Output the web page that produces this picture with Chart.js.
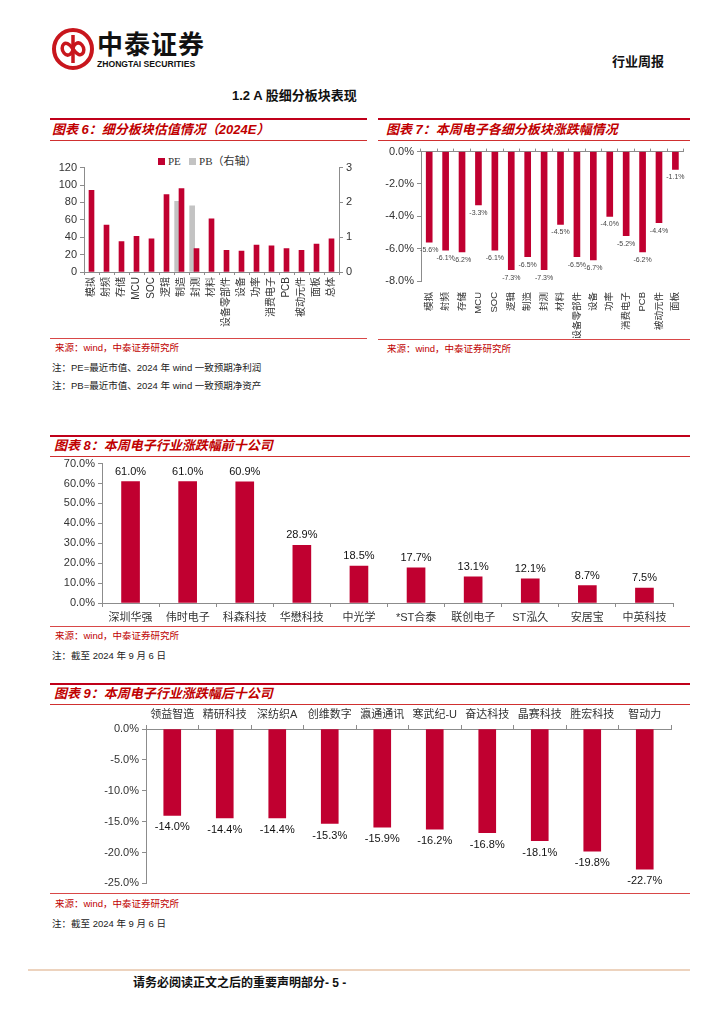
<!DOCTYPE html>
<html>
<head>
<meta charset="utf-8">
<script src="https://cdn.jsdelivr.net/npm/chart.js@4.4.1/dist/chart.umd.min.js"></script>
<style>
body { margin: 0; background: #fff; }
#page { position: relative; width: 724px; height: 1024px; overflow: hidden; font-family: 'Liberation Sans', 'Noto Sans CJK SC', sans-serif; color: #222; }
.txt { position: absolute; white-space: nowrap; }
.rule { position: absolute; height: 0; }
.title { position: absolute; white-space: nowrap; color: #C00000; font-style: italic; font-weight: bold; font-size: 13px; line-height: 16px; }
.src { position: absolute; white-space: nowrap; color: #C00000; font-size: 9.5px; line-height: 12px; }
.note { position: absolute; white-space: nowrap; color: #222; font-size: 9.5px; line-height: 12px; }
.legend { position: absolute; white-space: nowrap; font-size: 11px; line-height: 12px; color: #333; font-family: 'Liberation Serif', 'Noto Sans CJK SC', serif; }
.legend i { display: inline-block; width: 7px; height: 7px; margin-right: 3px; vertical-align: 0px; }
canvas { position: absolute; }
</style>
</head>
<body>
<div id="page">
  <!-- header -->
  <svg class="txt" style="left:51px;top:27px" width="44" height="44" viewBox="0 0 44 44">
    <circle cx="22" cy="22" r="19" fill="none" stroke="#C8161D" stroke-width="4"/>
    <path d="M22 8 V36" stroke="#C8161D" stroke-width="3.5"/>
    <path d="M22 22 C14 10, 8 20, 13 26 C17 31, 22 26, 22 22 C22 18, 27 13, 31 18 C36 24, 30 34, 22 22" fill="none" stroke="#C8161D" stroke-width="3.5"/>
  </svg>
  <div class="txt" style="left:97px;top:30px;font-size:26px;font-weight:bold;letter-spacing:1px;line-height:30px;color:#111">中泰证券</div>
  <div class="txt" style="left:97px;top:59px;font-size:8.6px;font-weight:bold;line-height:10px;color:#111">ZHONGTAI SECURITIES</div>
  <div class="txt" style="left:612px;top:54px;font-size:13px;font-weight:bold;line-height:16px;color:#111">行业周报</div>
  <div class="txt" style="left:232px;top:88px;font-size:13px;font-weight:bold;line-height:16px;color:#111">1.2 A 股细分板块表现</div>

  <!-- chart 6 frame -->
  <div class="rule" style="left:50px;width:317px;top:118px;border-top:2px solid #C0001A"></div>
  <div class="title" style="left:52px;top:122px">图表 6：细分板块估值情况（2024E）</div>
  <div class="rule" style="left:50px;width:317px;top:140px;border-top:1.5px solid #D03030"></div>
  <div class="legend" style="left:158px;top:155px"><i style="background:#C00030"></i>PE &nbsp; <i style="background:#C3C3C3"></i>PB（右轴）</div>
  <canvas id="c6" style="left:50px;top:158px" width="317" height="179"></canvas>
  <div class="rule" style="left:50px;width:317px;top:338px;border-top:1.5px solid #D84848"></div>
  <div class="src" style="left:55px;top:342px">来源：wind，中泰证券研究所</div>
  <div class="note" style="left:52px;top:362px">注：PE=最近市值、2024 年 wind 一致预期净利润</div>
  <div class="note" style="left:52px;top:380px">注：PB=最近市值、2024 年 wind 一致预期净资产</div>

  <!-- chart 7 frame -->
  <div class="rule" style="left:378px;width:312px;top:118px;border-top:2px solid #C0001A"></div>
  <div class="title" style="left:386px;top:122px">图表 7：本周电子各细分板块涨跌幅情况</div>
  <div class="rule" style="left:378px;width:312px;top:140px;border-top:1.5px solid #D03030"></div>
  <canvas id="c7" style="left:378px;top:142px" width="312" height="196"></canvas>
  <div class="rule" style="left:378px;width:312px;top:339px;border-top:1.5px solid #D84848"></div>
  <div class="src" style="left:387px;top:343px">来源：wind，中泰证券研究所</div>

  <!-- chart 8 frame -->
  <div class="rule" style="left:50px;width:640px;top:435px;border-top:2px solid #C0001A"></div>
  <div class="title" style="left:54px;top:438px">图表 8：本周电子行业涨跌幅前十公司</div>
  <div class="rule" style="left:50px;width:640px;top:456px;border-top:1.5px solid #D03030"></div>
  <canvas id="c8" style="left:50px;top:454px" width="640" height="171"></canvas>
  <div class="rule" style="left:50px;width:640px;top:626px;border-top:1.5px solid #D84848"></div>
  <div class="src" style="left:55px;top:630px">来源：wind，中泰证券研究所</div>
  <div class="note" style="left:52px;top:650px">注：截至 2024 年 9 月 6 日</div>

  <!-- chart 9 frame -->
  <div class="rule" style="left:50px;width:640px;top:683px;border-top:2px solid #C0001A"></div>
  <div class="title" style="left:54px;top:686px">图表 9：本周电子行业涨跌幅后十公司</div>
  <div class="rule" style="left:50px;width:640px;top:704px;border-top:1.5px solid #D03030"></div>
  <canvas id="c9" style="left:50px;top:705px" width="640" height="188"></canvas>
  <div class="rule" style="left:50px;width:640px;top:893px;border-top:1.5px solid #D84848"></div>
  <div class="src" style="left:55px;top:898px">来源：wind，中泰证券研究所</div>
  <div class="note" style="left:52px;top:918px">注：截至 2024 年 9 月 6 日</div>

  <!-- footer -->
  <div class="rule" style="left:28px;width:662px;top:969px;border-top:2px solid #EDD3BE"></div>
  <div class="txt" style="left:133px;top:976px;font-size:12px;font-weight:bold;line-height:15px;color:#111">请务必阅读正文之后的重要声明部分- 5 -</div>
</div>

<script>
// 图表6：细分板块估值
const sectorNames = ['模拟', '射频', '存储', 'MCU', 'SOC', '逻辑', '制造', '封测', '材料', '设备零部件', '设备', '功率', '消费电子', 'PCB', '被动元件', '面板', '总体'];
const peValues = [94, 54, 35, 41, 38, 89, 96, 27, 61, 25, 24, 31, 30, 27, 25, 32, 38];
const pbValues = [null, null, null, null, null, null, 2.03, 1.9, null, null, null, null, null, null, null, null, null];

// 图表7：本周各细分板块涨跌幅 (%)
const weekSectorNames = ['模拟', '射频', '存储', 'MCU', 'SOC', '逻辑', '制造', '封测', '材料', '设备零部件', '设备', '功率', '消费电子', 'PCB', '被动元件', '面板'];
const weekChange = [-5.6, -6.1, -6.2, -3.3, -6.1, -7.3, -6.5, -7.3, -4.5, -6.5, -6.7, -4.0, -5.2, -6.2, -4.4, -1.1];

// 图表8：涨幅前十
const topNames = ['深圳华强', '伟时电子', '科森科技', '华懋科技', '中光学', '*ST合泰', '联创电子', 'ST泓久', '安居宝', '中英科技'];
const topChange = [61.0, 61.0, 60.9, 28.9, 18.5, 17.7, 13.1, 12.1, 8.7, 7.5];

// 图表9：跌幅前十
const bottomNames = ['领益智造', '精研科技', '深纺织A', '创维数字', '瀛通通讯', '寒武纪-U', '奋达科技', '晶赛科技', '胜宏科技', '智动力'];
const bottomChange = [-14.0, -14.4, -14.4, -15.3, -15.9, -16.2, -16.8, -18.1, -19.8, -22.7];

const RED = '#C00030';
const GREY = '#C3C3C3';
const AXIS = '#8C8C8C';
const PB_SHIFT = 0.29; // PB bars sit left of the category centre

Chart.defaults.font.family = "'Liberation Sans', 'Noto Sans CJK SC', sans-serif";
Chart.defaults.font.size = 11;
Chart.defaults.color = '#333';
Chart.defaults.animation = false;

const pct = v => v.toFixed(1) + '%';

// draws value labels at the end of each bar
const valueLabels = {
    id: 'valueLabels',
    afterDatasetsDraw(chart, args, opts) {
        const ctx = chart.ctx;
        ctx.save();
        ctx.font = opts.size + "px 'Liberation Sans', sans-serif";
        ctx.fillStyle = opts.color;
        ctx.textAlign = 'center';
        ctx.textBaseline = 'middle';
        chart.getDatasetMeta(0).data.forEach((bar, i) => {
            const v = chart.data.datasets[0].data[i];
            const y = v >= 0 ? bar.y - opts.offset : bar.y + opts.offset;
            ctx.fillText(pct(v), bar.x, y);
        });
        ctx.restore();
    }
};

const tickGrid = { drawOnChartArea: false, tickLength: 4, color: AXIS };
const border = { color: AXIS, width: 1 };

// chart 6
new Chart(document.getElementById('c6'), {
    type: 'bar',
    data: {
        labels: sectorNames,
        datasets: [
            { label: 'PE', data: peValues, backgroundColor: RED, barThickness: 5, grouped: false, yAxisID: 'y' },
            {
                label: 'PB（右轴）',
                data: pbValues.map((v, i) => v == null ? null : { x: i - PB_SHIFT, y: v }).filter(p => p),
                backgroundColor: GREY, barThickness: 5, grouped: false, xAxisID: 'xPB', yAxisID: 'y2'
            }
        ]
    },
    options: {
        responsive: false,
        layout: { padding: 0 },
        plugins: {
            legend: { display: false },
            tooltip: { enabled: false }
        },
        scales: {
            x: {
                grid: { ...tickGrid, offset: true, tickLength: 3 },
                border: border,
                ticks: { minRotation: 90, maxRotation: 90, autoSkip: false, padding: 2, font: { size: 10 } },
                afterFit: s => { s.height = 65; }
            },
            xPB: {
                type: 'linear', display: false, offset: false, grid: { offset: false },
                min: -0.5, max: sectorNames.length - 0.5
            },
            y: {
                min: 0, max: 120,
                ticks: { stepSize: 20, padding: 3 },
                grid: tickGrid, border: border,
                afterFit: s => { s.width = 34; }
            },
            y2: {
                position: 'right', min: 0, max: 3,
                ticks: { stepSize: 1, padding: 3 },
                grid: tickGrid, border: border,
                afterFit: s => { s.width = 28; }
            }
        }
    }
});

// chart 7
new Chart(document.getElementById('c7'), {
    type: 'bar',
    data: {
        labels: weekSectorNames,
        datasets: [{ data: weekChange, backgroundColor: RED, barThickness: 6 }]
    },
    plugins: [valueLabels],
    options: {
        responsive: false,
        layout: { padding: 0 },
        plugins: {
            legend: { display: false },
            tooltip: { enabled: false },
            valueLabels: { size: 7, color: '#444', offset: 8 }
        },
        scales: {
            x: {
                grid: { display: false },
                border: { display: false },
                ticks: { minRotation: 90, maxRotation: 90, autoSkip: false, padding: 3, font: { size: 9.5 } },
                afterFit: s => { s.height = 57; }
            },
            xTop: {
                type: 'category', labels: weekSectorNames, position: 'top', offset: true,
                grid: { ...tickGrid, offset: true, tickLength: 3 },
                border: border,
                ticks: { display: false },
                afterFit: s => { s.height = 0; }
            },
            y: {
                min: -8, max: 0,
                ticks: { stepSize: 2, padding: 3, callback: v => pct(v) },
                grid: tickGrid, border: border,
                afterFit: s => { s.width = 43; }
            }
        }
    }
});

// chart 8
new Chart(document.getElementById('c8'), {
    type: 'bar',
    data: {
        labels: topNames,
        datasets: [{ data: topChange, backgroundColor: RED, barThickness: 18 }]
    },
    plugins: [valueLabels],
    options: {
        responsive: false,
        layout: { padding: { right: 17 } },
        plugins: {
            legend: { display: false },
            tooltip: { enabled: false },
            valueLabels: { size: 11, color: '#111', offset: 10 }
        },
        scales: {
            x: {
                grid: { ...tickGrid, offset: true },
                border: border,
                ticks: { autoSkip: false, maxRotation: 0, padding: 4 },
                afterFit: s => { s.height = 22; }
            },
            y: {
                min: 0, max: 70,
                ticks: { stepSize: 10, padding: 3, callback: v => pct(v) },
                grid: tickGrid, border: border,
                afterFit: s => { s.width = 52; }
            }
        }
    }
});

// chart 9
new Chart(document.getElementById('c9'), {
    type: 'bar',
    data: {
        labels: bottomNames,
        datasets: [{ data: bottomChange, backgroundColor: RED, barThickness: 17 }]
    },
    plugins: [valueLabels],
    options: {
        responsive: false,
        layout: { padding: { right: 19 } },
        plugins: {
            legend: { display: false },
            tooltip: { enabled: false },
            valueLabels: { size: 11, color: '#111', offset: 12 }
        },
        scales: {
            x: {
                position: 'top',
                grid: { ...tickGrid, offset: true },
                border: border,
                ticks: { autoSkip: false, maxRotation: 0, padding: 3 },
                afterFit: s => { s.height = 24; }
            },
            y: {
                min: -25, max: 0,
                ticks: { stepSize: 5, padding: 3, callback: v => pct(v) },
                grid: tickGrid, border: border,
                afterFit: s => { s.width = 96; }
            }
        }
    }
});
</script>
</body>
</html>
